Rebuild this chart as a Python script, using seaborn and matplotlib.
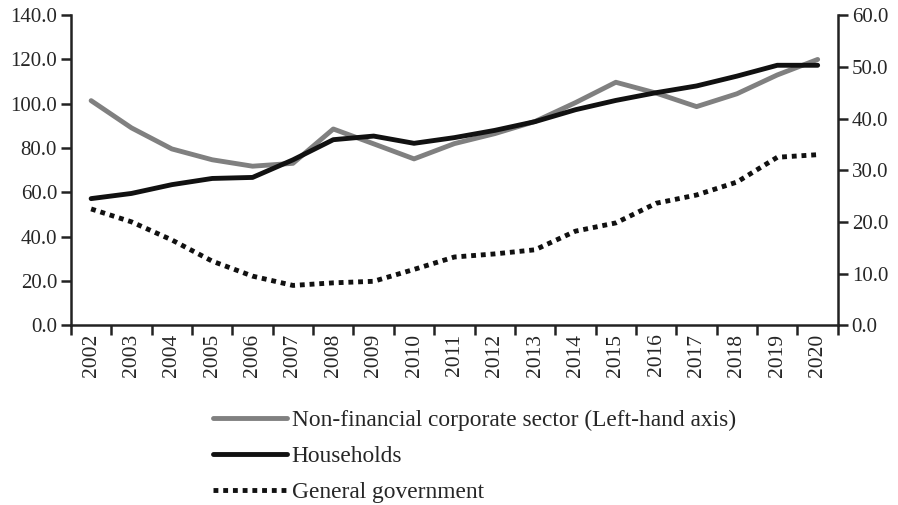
import pandas as pd
import numpy as np
import matplotlib
matplotlib.use("Agg")
import matplotlib.pyplot as plt
import seaborn as sns
from matplotlib.ticker import MultipleLocator, FixedLocator

years = list(range(2002, 2021))
corporate = [101.4, 89.1, 79.6, 74.7, 71.8, 73.1, 88.6, 81.9, 75.1, 82.0, 86.5,
             92.0, 100.5, 109.7, 104.8, 98.7, 104.5, 113.0, 120.0]
households = [24.5, 25.5, 27.2, 28.4, 28.6, 32.0, 35.9, 36.6, 35.2, 36.3, 37.7,
              39.4, 41.7, 43.5, 45.0, 46.3, 48.2, 50.3, 50.3]
government = [22.5, 20.0, 16.5, 12.4, 9.5, 7.7, 8.2, 8.5, 10.8, 13.2, 13.8,
              14.6, 18.2, 19.8, 23.6, 25.2, 27.7, 32.5, 33.0]

df = pd.DataFrame({"year": years, "corporate": corporate,
                   "households": households, "government": government})

sns.set_style("white")
plt.rcParams['font.family'] = ['Liberation Serif', 'DejaVu Serif']

fig = plt.figure(figsize=(8.98, 5.05), dpi=100)
ax = fig.add_axes([0.079, 0.356, 0.854, 0.614])
ax2 = ax.twinx()

sns.lineplot(data=df, x="year", y="corporate", ax=ax, color="#808080", lw=3.5,
             label="Non-financial corporate sector (Left-hand axis)", legend=False)
sns.lineplot(data=df, x="year", y="households", ax=ax2, color="#111111", lw=3.5,
             label="Households", legend=False)
sns.lineplot(data=df, x="year", y="government", ax=ax2, color="#111111", lw=3.5,
             linestyle=(0, (1, 1)), label="General government", legend=False)

ax.set_ylim(0, 140)
ax2.set_ylim(0, 60)
ax.yaxis.set_major_locator(MultipleLocator(20))
ax2.yaxis.set_major_locator(MultipleLocator(10))
ax.yaxis.set_major_formatter(matplotlib.ticker.FormatStrFormatter("%.1f"))
ax2.yaxis.set_major_formatter(matplotlib.ticker.FormatStrFormatter("%.1f"))

# ticks sit between the years, labels in the middle
ax.set_xlim(years[0] - 0.5, years[-1] + 0.5)
ax.xaxis.set_major_locator(FixedLocator(np.arange(years[0] - 0.5, years[-1] + 1, 1)))
ax.xaxis.set_major_formatter(matplotlib.ticker.NullFormatter())
ax.set_xticks(years, [str(y) for y in years], minor=True, rotation=90)

for a in (ax, ax2):
    a.set_xlabel("")
    a.set_ylabel("")
    a.spines["top"].set_visible(False)
    for s in a.spines.values():
        s.set_linewidth(1.8)
        s.set_color("#222222")

ax.tick_params(axis="x", which="major", direction="out", length=7, width=1.8, color="#222222", bottom=True)
ax.tick_params(axis="x", which="minor", length=0, labelsize=15.5, pad=6, bottom=True)
ax.tick_params(axis="y", direction="out", length=7, width=1.8, color="#222222", labelsize=15, left=True, pad=3)
ax2.tick_params(axis="y", direction="out", length=7, width=1.8, color="#222222", labelsize=15, right=True, pad=3)
ax.spines["right"].set_visible(False)
ax2.spines["left"].set_visible(False)
ax2.spines["bottom"].set_visible(False)

h1, l1 = ax.get_legend_handles_labels()
h2, l2 = ax2.get_legend_handles_labels()
fig.legend(h1 + h2, l1 + l2, loc="upper left", bbox_to_anchor=(0.237, 0.188),
           frameon=False, fontsize=16.8, handlelength=3.2, handletextpad=0.18,
           labelspacing=0.62, borderpad=0, borderaxespad=0)

fig.savefig("out.png", dpi=100)
